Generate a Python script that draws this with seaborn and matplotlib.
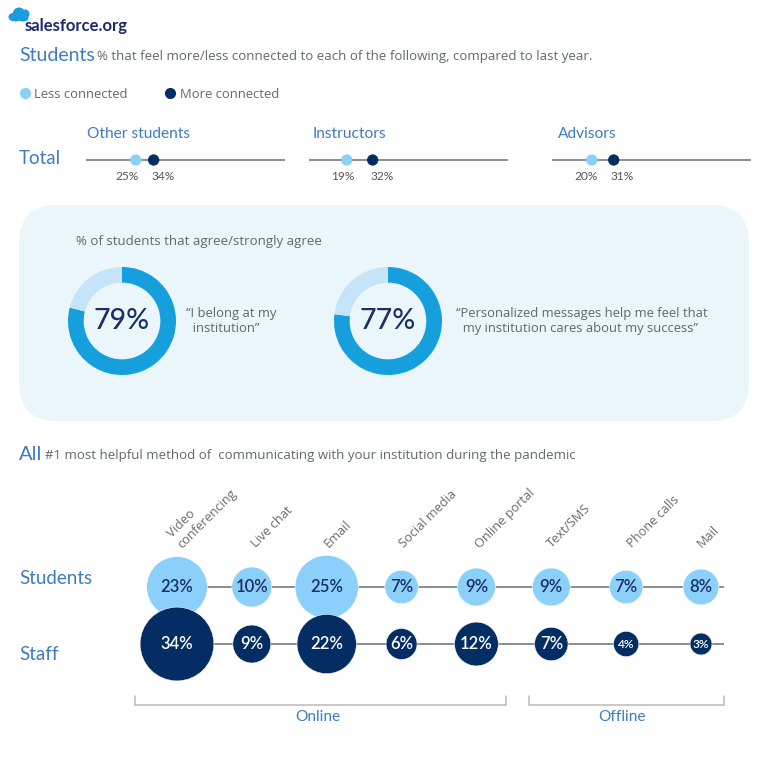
import matplotlib
matplotlib.use("Agg")
import matplotlib.pyplot as plt
from matplotlib.lines import Line2D
from matplotlib.patches import Ellipse, FancyBboxPatch
import pandas as pd
import seaborn as sns

# values
connection_groups = ["Other students", "Instructors", "Advisors"]
less_connected = [25, 19, 20]
more_connected = [34, 32, 31]

agree_values = [79, 77]
agree_quotes = ["\u201cI belong at my\n  institution\u201d",
                "\u201cPersonalized messages help me feel that\n  my institution cares about my success\u201d"]

methods = ["Video conferencing", "Live chat", "Email", "Social media",
           "Online portal", "Text/SMS", "Phone calls", "Mail"]
method_labels = ["Video\nconferencing", "Live chat", "Email", "Social media",
                 "Online portal", "Text/SMS", "Phone calls", "Mail"]
students_pct = [23, 10, 25, 7, 9, 9, 7, 8]
staff_pct = [34, 9, 22, 6, 12, 7, 4, 3]

LIGHT = "#8AD0FA"
NAVY = "#032D63"
INK = "#1B2F63"
DONUT = "#159FDD"
DONUT_LIGHT = "#C5E4F8"
PANEL = "#EAF6F9"
BLUE = "#3F7CBF"
GREY = "#63676C"
LINE = "#6E6E6E"
BRACKET = "#B9B9B9"
BODY = ["Open Sans", "DejaVu Sans"]
SIZE = 768

sns.set_theme(style="white")
plt.rcParams["font.family"] = ["Lato", "DejaVu Sans"]


def px_axes(fig, x0, y0, x1, y1, **kw):
    # axes placed from pixel box, y measured from the top
    ax = fig.add_axes([x0 / SIZE, 1 - y1 / SIZE, (x1 - x0) / SIZE, (y1 - y0) / SIZE], **kw)
    ax.patch.set_alpha(0)
    return ax


fig = plt.figure(figsize=(7.68, 7.68), dpi=100, facecolor="white")

# background layer for the panel, headings and logo
bg = px_axes(fig, 0, 0, SIZE, SIZE, zorder=-1)
bg.set_xlim(0, SIZE)
bg.set_ylim(SIZE, 0)
bg.set_axis_off()

bg.add_patch(FancyBboxPatch((19, 205), 730, 216, boxstyle="round,pad=0,rounding_size=38",
                            facecolor=PANEL, edgecolor="none"))

# logo
for cx, cy, w, h in [(13, 17, 9, 8), (19, 13, 12, 11), (25, 14, 9, 9), (23, 18, 11, 7), (16, 18, 9, 7)]:
    bg.add_patch(Ellipse((cx, cy), w, h, facecolor="#1B9BE0", edgecolor="none"))
bg.text(25, 26, "salesforce.org", color="#1B2A6B", fontsize=12.0, fontweight="bold",
        va="center", ha="left")

# headings
bg.text(19, 55.5, "Students", color=BLUE, fontsize=14, va="center")
bg.text(97, 56.5, "% that feel more/less connected to each of the following, compared to last year.",
        color=GREY, fontsize=9.57, va="center", family=BODY)
bg.text(19, 158, "Total", color=BLUE, fontsize=13.5, va="center")
bg.text(76, 241.5, "% of students that agree/strongly agree", color=GREY, fontsize=9.57, va="center", family=BODY)
bg.text(19, 454, "All", color=BLUE, fontsize=14.5, va="center")
bg.text(45, 455, "#1 most helpful method of  communicating with your institution during the pandemic",
        color=GREY, fontsize=9.5, va="center", family=BODY)
bg.text(19, 578, "Students", color=BLUE, fontsize=13.5, va="center")
bg.text(19, 654, "Staff", color=BLUE, fontsize=13.5, va="center")

# legend for the strips
handles = [Line2D([], [], marker="o", linestyle="none", markersize=7, color=LIGHT, label="Less connected"),
           Line2D([], [], marker="o", linestyle="none", markersize=7, color=NAVY, label="More connected")]
leg = bg.legend(handles=handles, loc="center left", bbox_to_anchor=(20 / SIZE, 1 - 94.5 / SIZE), ncol=2,
                frameon=False, handlelength=0.7, handletextpad=0.4, columnspacing=2.9, borderpad=0,
                borderaxespad=0, bbox_transform=fig.transFigure, prop={"family": BODY, "size": 9.4},
                labelcolor=GREY)

# dumbbell strips, x axis runs 0-100%
strip_left = [86, 309, 552]
label_shift = [(-9, 9), (-4, 9), (-6, 8)]
for i, group in enumerate(connection_groups):
    left = strip_left[i]
    ax = px_axes(fig, left, 150, left + 199, 170)
    ax.set_axis_off()
    ax.set_xlim(0, 100)
    ax.set_ylim(-1, 1)
    ax.plot([0, 100], [0, 0], color=LINE, lw=1.1, zorder=1, solid_capstyle="butt")
    strip = pd.DataFrame({"pct": [less_connected[i], more_connected[i]], "kind": ["Less", "More"], "y": [0, 0]})
    sns.scatterplot(data=strip, x="pct", y="y", hue="kind", palette={"Less": LIGHT, "More": NAVY},
                    s=66, linewidth=0, legend=False, zorder=2, clip_on=False, ax=ax)
    ax.set_xlabel("")
    ax.set_ylabel("")
    for val, dx in zip(strip["pct"], label_shift[i]):
        ax.annotate(f"{val}%", (val, 0), xytext=(dx * 0.72, -16 * 0.72), textcoords="offset points",
                    ha="center", va="center", fontsize=8.6, color="#555555")
    bg.text(left + (1 if i == 0 else 4 if i == 1 else 6), 133.5, group, color=BLUE, fontsize=11.2, va="center")

# donuts
donut_cx = [122, 388]
quote_x = [186, 456]
for val, quote, cx, qx in zip(agree_values, agree_quotes, donut_cx, quote_x):
    ax = px_axes(fig, cx - 54, 267, cx + 54, 375)
    ax.pie([val, 100 - val], colors=[DONUT, DONUT_LIGHT], startangle=90, counterclock=False,
           radius=1, wedgeprops={"width": 0.29, "linewidth": 0})
    ax.set_xlim(-1, 1)
    ax.set_ylim(-1, 1)
    ax.text(0, 0.0, f"{val}%", ha="center", va="center", fontsize=20.5, color=INK, fontweight="medium")
    bg.text(qx, 321, quote, color=GREY, fontsize=9.4, va="center", ha="left", linespacing=1.2, family=BODY)

# bubble rows, area is proportional to the value
bubbles = pd.DataFrame({
    "method": methods * 2,
    "row": ["Students"] * len(methods) + ["Staff"] * len(methods),
    "pct": students_pct + staff_pct,
})
PT2_PER_PCT = 83
ax = px_axes(fig, 134, 552, 724, 700)
sns.scatterplot(data=bubbles, x="method", y="row", hue="row", size="pct",
                palette={"Students": LIGHT, "Staff": NAVY},
                sizes=(PT2_PER_PCT * 3, PT2_PER_PCT * 34), size_norm=(3, 34),
                edgecolor="white", linewidth=0.4, legend=False, zorder=2, clip_on=False, ax=ax)
ax.set_xlim(-0.574, 7.307)
ax.set_ylim(1.982, -0.614)
ax.set_axis_off()
ax.hlines([0, 1], 0, 7.307, color=LINE, lw=1.1, zorder=1)

for i, row in bubbles.iterrows():
    x = methods.index(row["method"])
    y = 0 if row["row"] == "Students" else 1
    color = INK if y == 0 else "white"
    fs = 8.6 if row["pct"] < 5 else 12
    ax.text(x, y, f"{row['pct']}%", ha="center", va="center", fontsize=fs, color=color,
            fontweight="semibold", zorder=3)

label_dx = [7, 6, 4, 5, 6, 3, 8, 3]
for i, label in enumerate(method_labels):
    ax.annotate(label, xy=(i, 1), xycoords=("data", "axes fraction"), xytext=(label_dx[i] * 0.72, 1),
                textcoords="offset points", rotation=45, rotation_mode="anchor", ha="left", va="bottom",
                fontsize=9.2, color="#6A6A6A", linespacing=1.15, family=BODY)

# online / offline brackets
for x0, x1, name, xt in [(134.5, 506, "Online", 318), (529, 724, "Offline", 622)]:
    bg.plot([x0, x0, x1, x1], [696, 705, 705, 696], color=BRACKET, lw=1.1, solid_joinstyle="miter")
    bg.text(xt, 717, name, color=BLUE, fontsize=11.2, ha="center", va="center")

fig.savefig("out.png", dpi=100)
